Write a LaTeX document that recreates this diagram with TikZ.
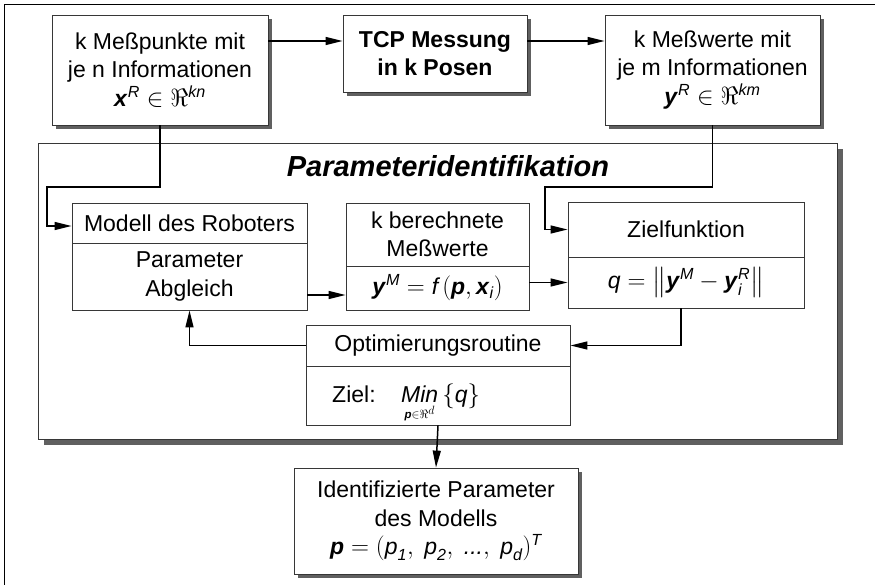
\documentclass[tikz,border=0pt]{standalone}
\usepackage{amsmath}
\usepackage{fontspec}
\setmainfont{Liberation Sans}
\usetikzlibrary{arrows.meta,shadows}

\definecolor{shade}{RGB}{96,96,96}
\definecolor{edge}{RGB}{55,55,55}
\newcommand{\bv}[1]{\textbf{\textit{#1}}}

\tikzset{
  box/.style={draw=edge, line width=0.8pt, fill=white, inner sep=0pt, align=center,
              font=\fontsize{23}{28.3}\selectfont},
  shadowed/.style={drop shadow={shadow xshift=4pt, shadow yshift=-4pt, fill=shade, opacity=1}},
  conn/.style={line width=1.5pt, -{Triangle[length=17pt,width=8pt]}},
  label/.style={inner sep=0pt, font=\fontsize{23}{28.3}\selectfont}
}

\begin{document}
\begin{tikzpicture}[x=1pt, y=-1pt]
  \useasboundingbox (0,0) rectangle (875,585);
  % outer border
  \draw[line width=1pt] (875,5) -- (4,5) -- (4,585);

  % input, measurement and output boxes
  \node[box, shadowed, minimum width=216pt, minimum height=110pt] (b1) at (160,70)
    {k Meßpunkte mit\\je n Informationen\\$\bv{x}^{\textit{R}}\in\Re^{\textit{kn}}$};
  \node[box, shadowed, minimum width=184pt, minimum height=77pt,
        font=\fontsize{23}{28}\selectfont\bfseries] (tcp) at (435,53.5)
    {TCP Messung\\in k Posen};
  \node[box, shadowed, minimum width=215pt, minimum height=110pt] (b3) at (712.5,70)
    {k Meßwerte mit\\je m Informationen\\$\bv{y}^{\textit{R}}\in\Re^{\textit{km}}$};

  % identification frame
  \node[draw=edge, line width=0.8pt, fill=white, minimum width=799pt, minimum height=296pt,
        drop shadow={shadow xshift=6pt, shadow yshift=-6pt, fill=shade, opacity=1}]
        (frame) at (437.5,291) {};
  \node[label, font=\fontsize{29}{32}\selectfont\bfseries\itshape] (title) at (448,166)
    {Parameteridentifikation};

  % model box
  \node[box, minimum width=235pt, minimum height=40pt] (modelTop) at (189.5,223)
    {Modell des Roboters};
  \node[box, minimum width=235pt, minimum height=67pt] (modelBot) at (189.5,276.5)
    {Parameter\\Abgleich};
  % computed values
  \node[box, minimum width=183pt, minimum height=63pt] (calcTop) at (437.5,234.5)
    {k berechnete\\Meßwerte};
  \node[box, minimum width=183pt, minimum height=44pt] (calcBot) at (437.5,288)
    {$\bv{y}^{\textit{M}}=\textit{f}\,(\bv{p},\bv{x}_{\textit{i}})$};
  % objective function
  \node[box, minimum width=236pt, minimum height=55pt] (goalTop) at (686,229.5)
    {Zielfunktion};
  \node[box, minimum width=236pt, minimum height=51pt] (goalBot) at (686,282.5)
    {$\textit{q}=\bigl\|\bv{y}^{\textit{M}}-\bv{y}_{\textit{i}}^{\textit{R}}\bigr\|$};
  % optimisation
  \node[box, minimum width=264pt, minimum height=41pt] (optTop) at (438,345.5)
    {Optimierungsroutine};
  \node[box, minimum width=264pt, minimum height=59pt] (optBot) at (438,395.5) {};
  \node[label, anchor=base west] (zl) at (332,402) {Ziel:};
  \node[label, anchor=base west] (mn) at (401,402)
    {$\mathop{\textit{Min}}\limits_{\scriptscriptstyle\bv{p}\in\Re^{d}}\,\{\textit{q}\}$};

  % result
  \node[box, shadowed, minimum width=284pt, minimum height=106pt] (res) at (436,521)
    {Identifizierte Parameter\\des Modells\\
     $\bv{p}=(\textit{p}_{\textit{1}},\ \textit{p}_{\textit{2}},\ \textit{...},\ \textit{p}_{\textit{d}})^{\textit{T}}$};

  % connectors
  \coordinate (toprow) at (0,41);
  \coordinate (jogL) at (47,187);
  \coordinate (jogR) at (545,187);
  \draw[conn] (b1.east |- toprow) -- (tcp.west |- toprow);
  \draw[conn] (tcp.east |- toprow) -- (b3.west |- toprow);
  \draw[conn] (b1.south) -- (b1.south |- jogL) -- (jogL) |- ([yshift=-3pt]modelTop.west);
  \draw[conn] (b3.south) -- (b3.south |- jogR) -- (jogR) |- (goalTop.west);
  \coordinate (m1) at ([yshift=-7pt]calcBot.west);
  \draw[conn] (modelBot.east |- m1) -- (m1);
  \draw[conn] (calcBot.east |- goalBot.west) -- (goalBot.west);
  \draw[conn] ([xshift=-5pt]goalBot.south) |- (optTop.east);
  \draw[conn] (optTop.west) -| (modelBot.south);
  \draw[conn] (optBot.south) -- (res.north);
\end{tikzpicture}
\end{document}
